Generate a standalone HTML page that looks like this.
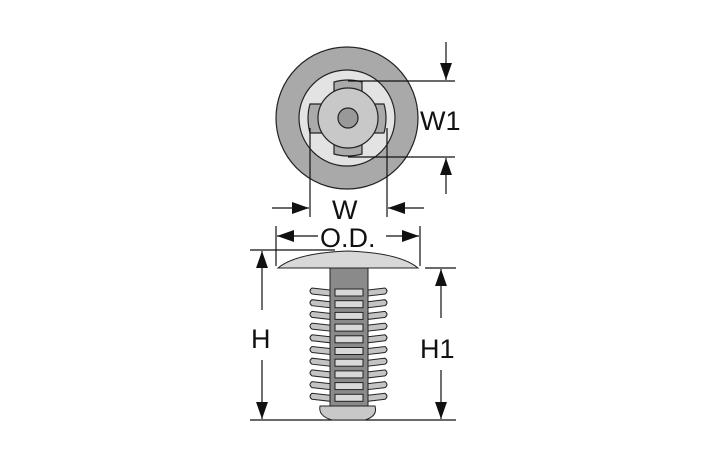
<!DOCTYPE html><html><head><style>body{margin:0;background:#fff}svg{display:block}text{font-family:"Liberation Sans",sans-serif;font-size:27px;fill:#111}</style></head><body>
<svg width="709" height="472" viewBox="0 0 709 472">
<defs>
<marker id="b" viewBox="0 0 10 10" refX="10" refY="5" markerWidth="17" markerHeight="17" markerUnits="userSpaceOnUse" orient="auto"><path d="M0,1.5L10,5L0,8.5z" fill="#111"/></marker></defs>
<g stroke="#222" stroke-width="1.2">
<circle cx="347" cy="118" r="71" fill="#a9a9a9"/>
<circle cx="347" cy="118" r="48" fill="#e3e3e3"/>
<path d="M334,92 L334,82 Q348,78 362,82 L362,92z" fill="#aaa"/>
<path d="M334,144 L334,154 Q348,158 362,154 L362,144z" fill="#aaa"/>
<path d="M322,104 L310,104 Q306,118 310,133 L322,133z" fill="#aaa"/>
<path d="M372,104 L384,104 Q388,118 384,133 L372,133z" fill="#aaa"/>
<circle cx="348" cy="118" r="30" fill="#c8c8c8"/>
<circle cx="348" cy="118" r="10" fill="#999"/>
</g>
<g stroke="#111" stroke-width="1.2" fill="none">
<line x1="348" y1="81" x2="455" y2="81"/><line x1="348" y1="157" x2="455" y2="157"/>
<line x1="446" y1="42" x2="446" y2="80" marker-end="url(#b)"/>
<line x1="446" y1="194" x2="446" y2="158" marker-end="url(#b)"/>
<line x1="310" y1="128" x2="310" y2="217"/><line x1="387" y1="128" x2="387" y2="217"/>
<line x1="272" y1="208" x2="309" y2="208" marker-end="url(#b)"/>
<line x1="424" y1="208" x2="388" y2="208" marker-end="url(#b)"/>
<line x1="276" y1="226" x2="276" y2="266"/><line x1="420" y1="226" x2="420" y2="266"/>
<line x1="318" y1="236" x2="277" y2="236" marker-end="url(#b)"/>
<line x1="386" y1="236" x2="419" y2="236" marker-end="url(#b)"/>
<line x1="250" y1="250" x2="335" y2="250"/>
<line x1="425" y1="268" x2="456" y2="268"/>
<line x1="250" y1="420" x2="456" y2="420"/>
<line x1="262" y1="310" x2="262" y2="251" marker-end="url(#b)"/>
<line x1="262" y1="360" x2="262" y2="419" marker-end="url(#b)"/>
<line x1="441" y1="318" x2="441" y2="269" marker-end="url(#b)"/>
<line x1="441" y1="370" x2="441" y2="419" marker-end="url(#b)"/>
</g>
<g stroke="#222" stroke-width="1">
<g id="f" fill="#c4c4c4">
<path d="M330,290 L312,288 Q308,291 312,294 L330,296z"/>
<path d="M368,290 L385,288 Q389,291 385,294 L368,296z"/>
</g>
<use href="#f" y="11.7"/><use href="#f" y="23.4"/><use href="#f" y="35.1"/><use href="#f" y="46.8"/><use href="#f" y="58.5"/><use href="#f" y="70.2"/><use href="#f" y="81.9"/><use href="#f" y="93.6"/><use href="#f" y="105.3"/>
<rect x="330" y="268" width="38" height="138" fill="#8a8a8a"/>
<path d="M320,406 L375,406 Q378,416 365,420 L332,420 Q318,416 320,406z" fill="#c8c8c8"/>
<path d="M278,268 Q296,253 348,251 Q400,253 418,268z" fill="#d8d8d8"/>
<g fill="#d8d8d8"><rect x="335" y="289" width="28" height="7"/><rect x="335" y="300.7" width="28" height="7"/><rect x="335" y="312.4" width="28" height="7"/><rect x="335" y="324.1" width="28" height="7"/><rect x="335" y="335.8" width="28" height="7"/><rect x="335" y="347.5" width="28" height="7"/><rect x="335" y="359.2" width="28" height="7"/><rect x="335" y="370.9" width="28" height="7"/><rect x="335" y="382.6" width="28" height="7"/><rect x="335" y="394.3" width="28" height="7"/></g>
</g>
<text x="420" y="130">W1</text>
<text x="332" y="219">W</text>
<text x="320" y="247">O.D.</text>
<text x="251" y="348">H</text>
<text x="420" y="358">H1</text>
</svg></body></html>
